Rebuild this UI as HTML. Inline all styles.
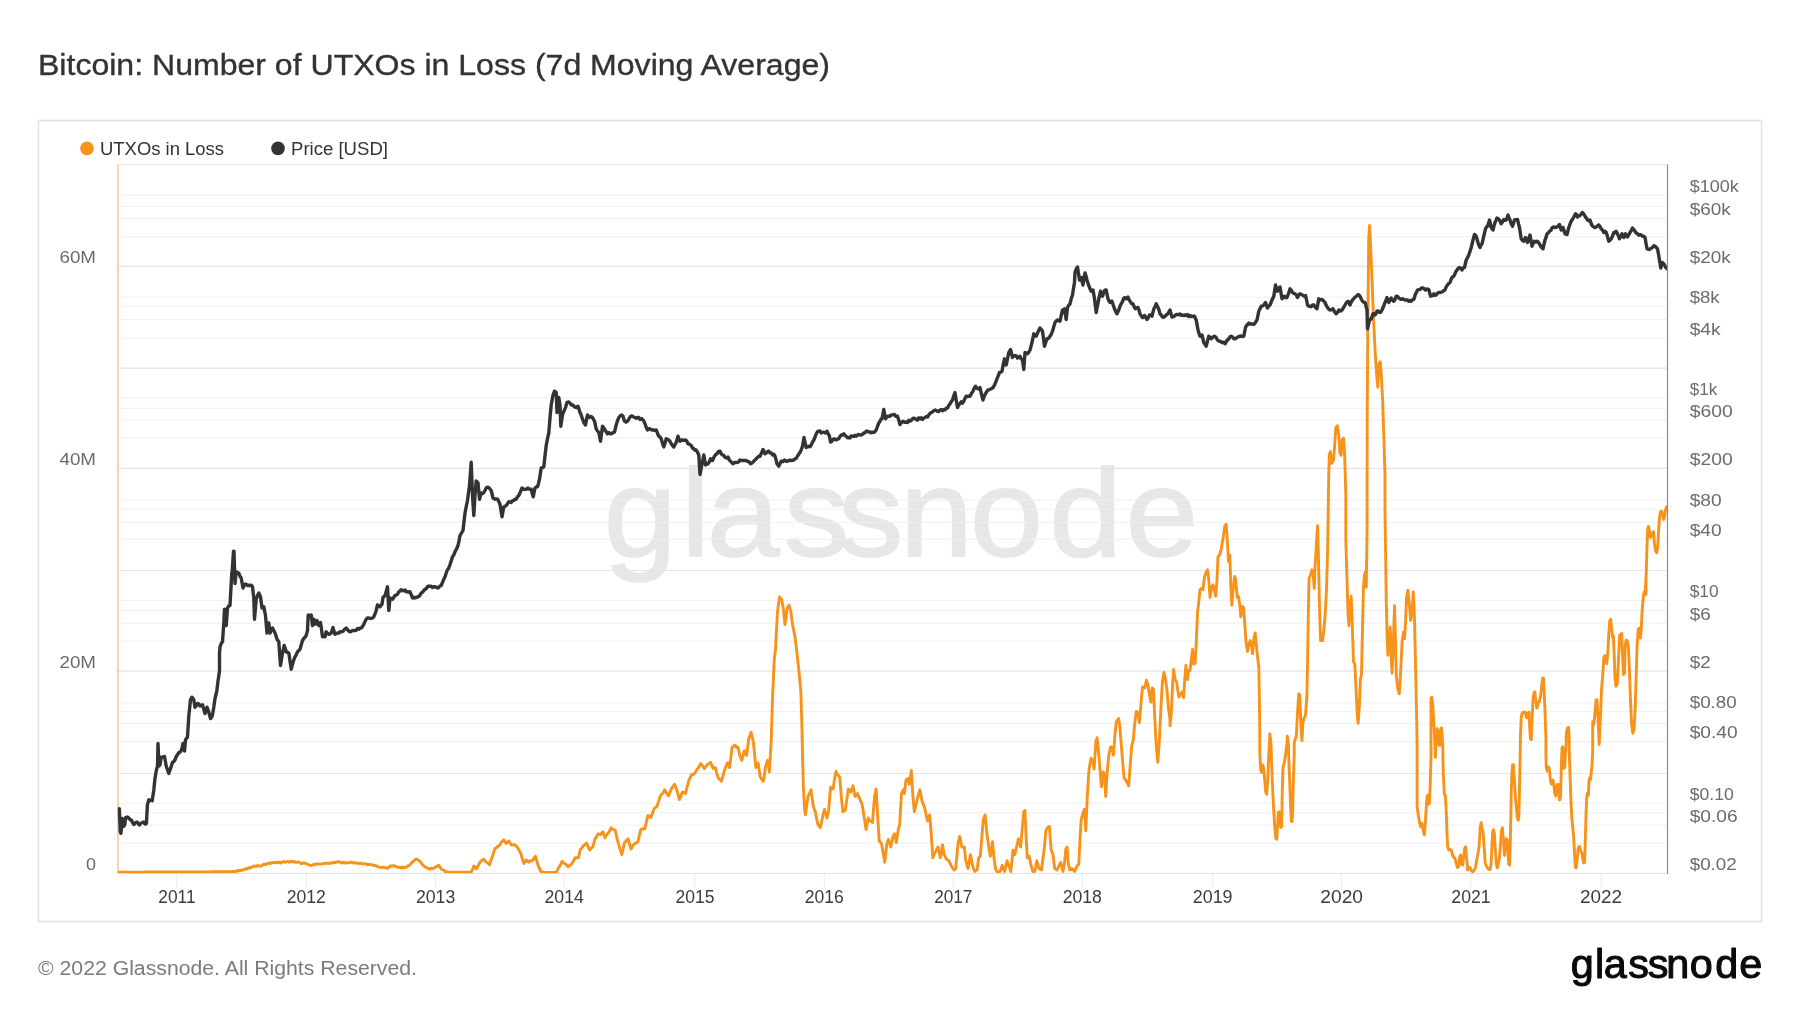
<!DOCTYPE html>
<html lang="en"><head><meta charset="utf-8"><title>Bitcoin: Number of UTXOs in Loss (7d Moving Average)</title>
<style>html,body{margin:0;padding:0;background:#fff;width:1800px;height:1013px;overflow:hidden}</style></head>
<body>
<svg width="1800" height="1013" viewBox="0 0 1800 1013" style="position:absolute;left:0;top:0;will-change:transform;font-family:'Liberation Sans',sans-serif">
<rect x="0" y="0" width="1800" height="1013" fill="#fff"/>
<rect x="38.5" y="120.5" width="1723" height="801" fill="#fff" stroke="#e3e3e3" stroke-width="1.6"/>
<text x="38" y="74.5" font-size="29" fill="#333" stroke="#333" stroke-width="0.35" textLength="792" lengthAdjust="spacingAndGlyphs">Bitcoin: Number of UTXOs in Loss (7d Moving Average)</text>
<g opacity="0.092">
<text transform="translate(0,555.5) scale(1.0481,1)" x="576.05 649.86 674.24 747.88 799.59 858.81 925.59 1001.10 1073.95" y="0" font-size="125" fill="#000" stroke="#000" stroke-width="1.8" stroke-linejoin="round" >glassnode</text>
</g>
<line x1="118" x2="1667.5" y1="195.30" y2="195.30" stroke="#f0f0f0" stroke-width="1"/>
<line x1="118" x2="1667.5" y1="297.20" y2="297.20" stroke="#f0f0f0" stroke-width="1"/>
<line x1="118" x2="1667.5" y1="398.10" y2="398.10" stroke="#f0f0f0" stroke-width="1"/>
<line x1="118" x2="1667.5" y1="500.00" y2="500.00" stroke="#f0f0f0" stroke-width="1"/>
<line x1="118" x2="1667.5" y1="600.40" y2="600.40" stroke="#f0f0f0" stroke-width="1"/>
<line x1="118" x2="1667.5" y1="702.80" y2="702.80" stroke="#f0f0f0" stroke-width="1"/>
<line x1="118" x2="1667.5" y1="803.20" y2="803.20" stroke="#f0f0f0" stroke-width="1"/>
<line x1="118" x2="1667.5" y1="206.30" y2="206.30" stroke="#f0f0f0" stroke-width="1"/>
<line x1="118" x2="1667.5" y1="306.20" y2="306.20" stroke="#f0f0f0" stroke-width="1"/>
<line x1="118" x2="1667.5" y1="408.30" y2="408.30" stroke="#f0f0f0" stroke-width="1"/>
<line x1="118" x2="1667.5" y1="509.25" y2="509.25" stroke="#f0f0f0" stroke-width="1"/>
<line x1="118" x2="1667.5" y1="610.50" y2="610.50" stroke="#f0f0f0" stroke-width="1"/>
<line x1="118" x2="1667.5" y1="711.60" y2="711.60" stroke="#f0f0f0" stroke-width="1"/>
<line x1="118" x2="1667.5" y1="812.70" y2="812.70" stroke="#f0f0f0" stroke-width="1"/>
<line x1="118" x2="1667.5" y1="218.50" y2="218.50" stroke="#f0f0f0" stroke-width="1"/>
<line x1="118" x2="1667.5" y1="319.60" y2="319.60" stroke="#f0f0f0" stroke-width="1"/>
<line x1="118" x2="1667.5" y1="420.30" y2="420.30" stroke="#f0f0f0" stroke-width="1"/>
<line x1="118" x2="1667.5" y1="522.30" y2="522.30" stroke="#f0f0f0" stroke-width="1"/>
<line x1="118" x2="1667.5" y1="623.20" y2="623.20" stroke="#f0f0f0" stroke-width="1"/>
<line x1="118" x2="1667.5" y1="723.60" y2="723.60" stroke="#f0f0f0" stroke-width="1"/>
<line x1="118" x2="1667.5" y1="825.30" y2="825.30" stroke="#f0f0f0" stroke-width="1"/>
<line x1="118" x2="1667.5" y1="236.70" y2="236.70" stroke="#f0f0f0" stroke-width="1"/>
<line x1="118" x2="1667.5" y1="338.20" y2="338.20" stroke="#f0f0f0" stroke-width="1"/>
<line x1="118" x2="1667.5" y1="438.00" y2="438.00" stroke="#f0f0f0" stroke-width="1"/>
<line x1="118" x2="1667.5" y1="539.25" y2="539.25" stroke="#f0f0f0" stroke-width="1"/>
<line x1="118" x2="1667.5" y1="641.20" y2="641.20" stroke="#f0f0f0" stroke-width="1"/>
<line x1="118" x2="1667.5" y1="741.60" y2="741.60" stroke="#f0f0f0" stroke-width="1"/>
<line x1="118" x2="1667.5" y1="843.30" y2="843.30" stroke="#f0f0f0" stroke-width="1"/>
<line x1="118" x2="1667.5" y1="266.40" y2="266.40" stroke="#e4e4e4" stroke-width="1.2"/>
<line x1="118" x2="1667.5" y1="368.20" y2="368.20" stroke="#e4e4e4" stroke-width="1.2"/>
<line x1="118" x2="1667.5" y1="468.40" y2="468.40" stroke="#e4e4e4" stroke-width="1.2"/>
<line x1="118" x2="1667.5" y1="570.50" y2="570.50" stroke="#e4e4e4" stroke-width="1.2"/>
<line x1="118" x2="1667.5" y1="671.10" y2="671.10" stroke="#e4e4e4" stroke-width="1.2"/>
<line x1="118" x2="1667.5" y1="773.50" y2="773.50" stroke="#e4e4e4" stroke-width="1.2"/>
<line x1="118" x2="1667.5" y1="164.5" y2="164.5" stroke="#e6e6e6" stroke-width="1.2"/>
<line x1="118" x2="1667.5" y1="873.5" y2="873.5" stroke="#e0e0e0" stroke-width="1.2"/>
<line x1="176.9" x2="176.9" y1="874.0" y2="887.5" stroke="#ececec" stroke-width="1"/>
<text x="176.9" y="903.2" font-size="17.6" fill="#3a3a44" text-anchor="middle" textLength="37.3" lengthAdjust="spacingAndGlyphs">2011</text>
<line x1="306.3" x2="306.3" y1="874.0" y2="887.5" stroke="#ececec" stroke-width="1"/>
<text x="306.3" y="903.2" font-size="17.6" fill="#3a3a44" text-anchor="middle" textLength="39" lengthAdjust="spacingAndGlyphs">2012</text>
<line x1="435.6" x2="435.6" y1="874.0" y2="887.5" stroke="#ececec" stroke-width="1"/>
<text x="435.6" y="903.2" font-size="17.6" fill="#3a3a44" text-anchor="middle" textLength="39.3" lengthAdjust="spacingAndGlyphs">2013</text>
<line x1="564.2" x2="564.2" y1="874.0" y2="887.5" stroke="#ececec" stroke-width="1"/>
<text x="564.2" y="903.2" font-size="17.6" fill="#3a3a44" text-anchor="middle" textLength="39.3" lengthAdjust="spacingAndGlyphs">2014</text>
<line x1="695.0" x2="695.0" y1="874.0" y2="887.5" stroke="#ececec" stroke-width="1"/>
<text x="695.0" y="903.2" font-size="17.6" fill="#3a3a44" text-anchor="middle" textLength="39" lengthAdjust="spacingAndGlyphs">2015</text>
<line x1="824.3" x2="824.3" y1="874.0" y2="887.5" stroke="#ececec" stroke-width="1"/>
<text x="824.3" y="903.2" font-size="17.6" fill="#3a3a44" text-anchor="middle" textLength="39" lengthAdjust="spacingAndGlyphs">2016</text>
<line x1="953.3" x2="953.3" y1="874.0" y2="887.5" stroke="#ececec" stroke-width="1"/>
<text x="953.3" y="903.2" font-size="17.6" fill="#3a3a44" text-anchor="middle" textLength="38.3" lengthAdjust="spacingAndGlyphs">2017</text>
<line x1="1082.3" x2="1082.3" y1="874.0" y2="887.5" stroke="#ececec" stroke-width="1"/>
<text x="1082.3" y="903.2" font-size="17.6" fill="#3a3a44" text-anchor="middle" textLength="39.3" lengthAdjust="spacingAndGlyphs">2018</text>
<line x1="1212.7" x2="1212.7" y1="874.0" y2="887.5" stroke="#ececec" stroke-width="1"/>
<text x="1212.7" y="903.2" font-size="17.6" fill="#3a3a44" text-anchor="middle" textLength="39.7" lengthAdjust="spacingAndGlyphs">2019</text>
<line x1="1341.7" x2="1341.7" y1="874.0" y2="887.5" stroke="#ececec" stroke-width="1"/>
<text x="1341.7" y="903.2" font-size="17.6" fill="#3a3a44" text-anchor="middle" textLength="42.7" lengthAdjust="spacingAndGlyphs">2020</text>
<line x1="1471.0" x2="1471.0" y1="874.0" y2="887.5" stroke="#ececec" stroke-width="1"/>
<text x="1471.0" y="903.2" font-size="17.6" fill="#3a3a44" text-anchor="middle" textLength="39.3" lengthAdjust="spacingAndGlyphs">2021</text>
<line x1="1601.0" x2="1601.0" y1="874.0" y2="887.5" stroke="#ececec" stroke-width="1"/>
<text x="1601.0" y="903.2" font-size="17.6" fill="#3a3a44" text-anchor="middle" textLength="42" lengthAdjust="spacingAndGlyphs">2022</text>
<line x1="117.9" x2="117.9" y1="164.5" y2="873.0" stroke="#fbc187" stroke-width="1.4"/>
<defs><clipPath id="cp"><rect x="117.5" y="160" width="1550.5" height="713.2"/></clipPath></defs>
<path d="M118.8 872.2 L120.2 872.2 L121.6 872.2 L123.0 872.2 L124.4 872.2 L125.9 872.2 L127.3 872.2 L128.7 872.2 L130.1 872.2 L131.5 872.1 L133.0 872.1 L134.4 872.1 L135.8 872.1 L137.2 872.1 L138.6 872.1 L140.1 872.1 L141.5 872.1 L142.9 872.1 L144.3 872.0 L145.7 872.0 L147.2 872.0 L148.6 872.0 L150.0 872.0 L151.4 872.0 L152.8 872.0 L154.2 872.0 L155.6 872.0 L156.9 872.0 L158.3 872.0 L159.7 872.0 L161.1 872.0 L162.5 872.0 L163.9 872.0 L165.3 872.0 L166.7 872.0 L168.1 872.0 L169.4 872.0 L170.8 872.0 L172.2 872.0 L173.6 872.0 L175.0 872.0 L176.4 872.0 L177.8 872.0 L179.2 872.0 L180.6 872.0 L181.9 872.0 L183.3 872.0 L184.7 872.0 L186.1 872.0 L187.5 872.0 L188.9 872.0 L190.3 872.0 L191.7 872.0 L193.1 872.0 L194.4 872.0 L195.8 872.0 L197.2 872.0 L198.6 872.0 L200.0 872.0 L201.4 872.0 L202.8 872.0 L204.2 871.9 L205.6 871.9 L207.0 871.9 L208.4 871.9 L209.8 871.9 L211.2 871.8 L212.6 871.8 L214.0 871.8 L215.4 871.8 L216.8 871.8 L218.2 871.7 L219.6 871.7 L221.0 871.7 L222.4 871.7 L223.8 871.7 L225.2 871.6 L226.6 871.6 L228.0 871.6 L229.4 871.6 L230.8 871.6 L232.2 871.5 L233.6 871.5 L235.0 871.5 L236.5 871.3 L238.0 870.2 L239.5 870.9 L241.0 870.4 L242.5 869.8 L244.0 869.9 L245.5 868.6 L247.0 869.0 L248.5 867.8 L250.0 868.0 L251.2 867.7 L252.5 866.7 L253.8 866.2 L255.0 866.0 L256.2 866.5 L257.5 865.4 L258.8 866.0 L260.0 866.0 L261.5 866.0 L263.0 864.7 L264.5 864.1 L266.0 864.5 L267.5 863.5 L269.0 863.2 L270.5 863.5 L272.0 862.4 L273.5 862.7 L275.0 862.8 L276.5 862.2 L278.0 862.8 L279.5 861.9 L281.0 863.0 L282.5 862.2 L283.9 861.5 L285.4 862.4 L286.8 861.4 L288.2 861.6 L289.6 862.3 L291.1 861.3 L292.5 861.8 L294.0 861.5 L295.5 862.4 L297.0 862.2 L298.5 861.9 L300.0 862.8 L301.5 863.7 L303.0 862.9 L304.5 863.0 L306.0 863.7 L307.5 864.2 L308.8 864.8 L310.0 865.4 L311.2 865.5 L312.8 864.7 L314.4 864.7 L315.9 863.9 L317.5 864.2 L319.0 863.9 L320.5 864.1 L322.0 863.8 L323.5 863.8 L325.0 863.0 L326.5 863.4 L328.0 863.5 L329.5 863.3 L331.0 863.0 L332.5 863.0 L333.8 862.4 L335.0 862.7 L336.2 862.0 L337.5 862.0 L339.0 861.7 L340.5 862.3 L342.0 863.1 L343.5 862.3 L345.0 863.0 L346.5 863.0 L348.0 862.7 L349.5 862.7 L351.0 862.1 L352.5 862.5 L354.0 863.3 L355.5 862.6 L357.0 863.2 L358.5 863.2 L360.0 863.5 L361.5 863.1 L363.0 864.1 L364.5 863.8 L366.0 863.9 L367.5 864.8 L369.0 864.3 L370.5 864.6 L372.0 864.6 L373.5 865.5 L375.0 865.5 L376.5 865.9 L378.0 866.8 L379.5 867.1 L381.0 867.6 L382.5 867.2 L383.8 867.2 L385.0 867.8 L386.2 867.9 L387.5 868.5 L388.8 867.4 L390.0 866.0 L391.2 866.0 L392.5 866.1 L393.8 865.5 L395.0 866.3 L396.2 866.4 L397.5 867.2 L398.8 867.3 L400.0 867.7 L401.2 867.1 L402.5 868.0 L403.8 867.1 L405.0 867.4 L406.2 867.2 L407.5 866.0 L408.8 865.9 L410.0 864.8 L411.2 863.2 L412.5 861.8 L413.8 861.0 L415.0 859.7 L416.2 859.2 L417.9 859.8 L419.5 861.0 L421.0 862.6 L422.5 864.8 L423.8 865.8 L425.0 866.7 L426.2 867.8 L427.5 867.9 L428.8 868.8 L430.0 869.0 L431.2 868.2 L432.5 868.6 L433.8 868.3 L435.0 867.2 L436.2 866.9 L437.5 865.8 L438.8 865.2 L440.0 867.1 L441.2 869.0 L442.5 869.9 L443.8 870.1 L445.0 871.5 L446.2 871.7 L447.5 871.9 L448.8 872.1 L450.0 872.2 L451.4 872.2 L452.8 872.2 L454.2 872.2 L455.7 872.2 L457.1 872.2 L458.5 872.2 L459.9 872.2 L461.3 872.2 L462.8 872.2 L464.2 872.2 L465.6 872.2 L467.0 872.2 L468.4 872.2 L469.8 872.2 L471.2 872.2 L472.5 869.3 L473.8 866.0 L475.0 867.0 L476.2 869.0 L477.5 866.7 L478.8 864.4 L480.0 862.2 L481.2 861.2 L482.5 859.9 L483.8 859.2 L485.0 860.8 L486.2 862.2 L487.9 863.0 L489.5 864.8 L491.0 860.2 L492.5 856.0 L493.8 852.1 L495.0 848.5 L496.2 848.2 L497.5 846.3 L498.8 846.0 L500.0 844.6 L501.2 842.3 L502.5 841.0 L503.8 839.8 L505.0 841.7 L506.2 843.5 L507.5 842.1 L508.8 841.0 L510.0 842.8 L511.2 844.8 L512.5 845.1 L513.8 844.6 L515.0 844.8 L516.2 846.0 L517.5 847.7 L518.8 849.8 L520.0 851.9 L521.2 854.8 L522.5 859.4 L523.8 863.5 L525.0 861.8 L526.2 859.8 L527.5 861.5 L528.8 862.2 L530.0 860.8 L531.5 860.8 L533.1 860.2 L534.3 857.7 L535.5 856.2 L536.6 860.2 L537.6 863.9 L539.2 867.9 L540.7 871.5 L542.2 871.8 L543.8 872.1 L545.3 872.5 L546.6 872.5 L548.0 872.5 L549.3 872.5 L550.7 872.5 L552.0 872.5 L553.3 872.5 L554.7 872.5 L556.0 872.5 L557.5 870.0 L559.1 866.9 L560.6 864.6 L562.1 861.4 L563.7 863.0 L565.2 863.9 L566.7 865.2 L568.3 866.9 L569.6 865.4 L570.9 864.5 L572.2 863.3 L573.8 860.3 L575.3 857.8 L576.8 857.7 L578.4 857.8 L579.4 853.6 L580.5 849.2 L582.0 847.8 L583.6 845.5 L585.1 844.4 L586.6 843.1 L588.2 846.9 L589.7 850.1 L591.2 848.1 L592.8 847.0 L593.8 843.1 L594.9 839.4 L596.4 837.1 L598.0 833.9 L599.2 833.9 L600.4 834.8 L601.6 833.2 L602.9 831.7 L603.9 834.4 L605.0 837.9 L606.5 835.1 L608.1 833.3 L609.6 830.9 L611.1 827.8 L612.4 829.2 L613.8 829.6 L615.1 830.2 L616.2 834.5 L617.2 839.4 L618.3 843.1 L619.4 847.0 L620.6 850.7 L621.8 854.7 L623.1 849.0 L624.3 843.1 L625.5 841.8 L626.7 840.1 L628.0 838.8 L629.5 844.0 L631.0 849.2 L632.5 846.2 L634.1 844.0 L635.3 843.3 L636.5 843.1 L637.8 841.8 L639.3 835.9 L640.8 829.6 L642.1 828.7 L643.5 829.0 L644.8 828.7 L646.3 822.2 L647.9 815.5 L649.4 816.1 L650.9 817.4 L652.5 813.4 L654.0 808.8 L655.5 807.5 L657.0 806.3 L658.6 801.6 L660.1 796.5 L661.6 794.2 L663.2 792.6 L664.7 789.8 L665.9 792.1 L667.1 794.0 L668.4 795.9 L669.9 792.1 L671.4 788.9 L673.0 786.5 L674.5 784.3 L675.7 786.9 L676.9 790.4 L678.2 795.1 L679.4 799.6 L680.9 796.1 L682.5 791.9 L684.0 792.3 L685.5 793.5 L687.0 787.4 L688.6 781.2 L690.1 777.8 L691.6 774.5 L692.7 774.4 L693.8 774.5 L695.3 772.3 L696.8 769.6 L698.2 768.0 L699.5 765.7 L700.8 763.5 L702.0 765.1 L703.3 767.2 L704.5 768.4 L706.0 766.2 L707.5 764.4 L709.1 763.6 L710.6 762.2 L711.8 765.4 L713.1 768.4 L714.1 768.2 L715.2 767.5 L716.7 773.1 L718.3 778.2 L719.8 779.4 L721.3 781.2 L722.9 776.0 L724.4 770.5 L725.9 766.6 L727.5 762.9 L728.5 765.3 L729.6 767.5 L730.8 757.7 L732.0 747.5 L733.3 746.5 L734.5 745.1 L735.6 745.8 L736.6 747.5 L738.2 747.5 L739.7 755.2 L740.8 757.8 L741.8 760.4 L743.1 755.7 L744.3 750.6 L745.5 753.3 L746.7 755.2 L747.8 746.5 L748.9 737.8 L750.0 735.3 L751.0 732.2 L752.2 737.3 L753.5 743.0 L754.7 755.4 L755.9 767.5 L757.0 765.4 L758.1 762.9 L759.1 769.8 L760.2 776.6 L761.7 779.3 L763.3 781.2 L764.5 773.8 L765.7 765.9 L767.5 760.4 L769.4 772.0 L771.2 741.4 L772.5 698.6 L774.3 658.8 L775.5 649.6 L777.4 612.9 L778.4 604.7 L779.5 596.9 L780.6 598.4 L781.6 599.1 L783.5 609.8 L785.0 624.5 L786.1 616.5 L787.1 608.3 L789.0 605.2 L790.8 611.3 L792.6 625.1 L793.7 630.3 L794.8 635.8 L795.9 644.4 L796.9 652.6 L798.2 664.2 L799.4 675.6 L800.9 692.5 L801.8 723.1 L802.5 753.7 L803.4 787.4 L804.6 808.8 L805.5 814.9 L806.7 805.6 L808.0 796.5 L809.5 793.4 L811.0 789.8 L812.1 797.6 L813.2 805.7 L814.2 808.9 L815.3 811.8 L816.5 817.9 L817.8 824.1 L819.0 825.7 L820.2 827.8 L821.3 822.9 L822.4 818.0 L823.4 813.7 L824.5 809.4 L825.7 813.5 L826.9 818.0 L828.5 811.8 L829.5 799.8 L830.6 787.4 L831.8 787.6 L833.1 788.9 L834.6 778.2 L836.1 771.4 L837.6 775.1 L838.7 775.8 L839.8 777.5 L841.6 799.6 L842.9 811.8 L844.1 811.1 L845.3 810.3 L846.8 799.8 L848.4 788.9 L849.6 790.6 L850.8 791.9 L851.9 789.1 L853.0 785.8 L854.0 791.2 L855.1 796.5 L856.3 795.2 L857.5 793.5 L858.8 796.4 L860.0 799.6 L861.1 801.7 L862.1 804.2 L863.2 811.1 L864.3 818.0 L866.1 829.6 L867.2 823.5 L868.3 818.0 L870.0 821.0 L871.2 821.3 L872.5 822.5 L873.5 809.6 L874.6 796.5 L876.1 788.9 L877.6 814.9 L879.2 840.9 L880.4 842.1 L881.6 844.0 L882.7 850.2 L883.8 856.2 L884.7 862.4 L885.8 853.3 L886.8 844.0 L888.4 839.4 L889.6 843.1 L890.8 847.0 L891.9 841.8 L893.0 836.3 L894.5 833.9 L896.3 842.5 L898.2 830.2 L899.7 824.1 L901.5 793.5 L903.1 789.8 L904.3 793.5 L906.1 779.7 L907.2 779.3 L908.3 778.2 L909.2 784.3 L910.3 777.6 L911.3 770.5 L912.9 796.5 L914.4 811.8 L915.5 807.0 L916.5 802.6 L918.4 795.0 L919.9 789.8 L921.0 795.3 L922.0 801.1 L923.3 804.1 L924.5 807.2 L925.6 812.3 L926.6 817.4 L927.5 821.0 L928.6 817.8 L929.7 814.9 L931.2 833.3 L932.8 857.8 L933.8 855.0 L934.9 853.2 L936.4 850.2 L938.0 847.0 L939.2 852.7 L940.4 857.8 L941.5 851.1 L942.5 844.6 L944.1 854.7 L945.3 857.0 L946.5 859.3 L947.8 859.9 L949.0 860.8 L950.0 863.1 L951.1 865.4 L952.6 868.1 L954.2 870.0 L955.7 868.5 L956.9 855.4 L958.2 842.5 L959.7 836.3 L960.8 841.8 L961.8 847.0 L963.1 847.0 L964.3 847.0 L965.8 860.8 L966.9 864.7 L968.0 868.5 L969.2 861.8 L970.4 854.7 L971.5 859.8 L972.5 865.4 L973.6 868.7 L974.7 871.5 L975.9 870.5 L977.1 870.0 L978.7 857.8 L980.2 856.2 L981.7 839.4 L983.3 819.5 L985.1 814.9 L986.9 833.3 L988.8 847.0 L990.3 856.2 L991.4 849.1 L992.5 841.8 L994.0 857.8 L995.5 868.5 L996.7 870.8 L998.0 872.5 L999.0 872.0 L1000.1 871.5 L1001.2 868.4 L1002.2 865.4 L1003.5 868.8 L1004.7 871.5 L1005.9 865.9 L1007.1 860.8 L1008.2 864.0 L1009.3 866.9 L1010.8 871.5 L1011.9 860.8 L1013.0 850.1 L1014.8 854.7 L1015.9 850.1 L1016.9 845.5 L1018.5 838.8 L1019.5 843.2 L1020.6 847.0 L1022.1 830.2 L1023.7 811.8 L1024.9 810.3 L1026.1 836.3 L1027.3 857.8 L1029.2 856.2 L1030.7 863.9 L1031.8 867.9 L1032.9 871.5 L1034.7 871.5 L1035.8 866.3 L1036.8 860.8 L1037.9 864.5 L1039.0 868.5 L1040.2 868.9 L1041.4 870.0 L1042.7 860.8 L1043.9 851.6 L1045.0 840.8 L1046.0 830.2 L1047.5 827.8 L1049.4 826.5 L1051.2 850.1 L1053.1 854.7 L1054.6 868.5 L1055.7 869.0 L1056.7 870.0 L1058.0 868.1 L1059.2 865.4 L1060.7 862.4 L1061.8 866.7 L1062.9 871.5 L1064.4 863.9 L1065.9 848.6 L1067.1 847.0 L1068.4 863.9 L1069.9 870.0 L1071.0 869.6 L1072.0 868.5 L1073.3 869.9 L1074.5 871.5 L1075.6 869.1 L1076.6 866.9 L1077.7 865.2 L1078.8 863.9 L1080.0 839.4 L1081.2 819.5 L1082.8 813.4 L1084.3 809.4 L1085.8 830.8 L1087.3 796.5 L1088.9 770.5 L1090.0 764.1 L1091.0 758.3 L1092.9 761.3 L1094.1 769.0 L1095.9 741.4 L1097.1 737.8 L1098.7 753.7 L1100.2 772.0 L1101.4 786.7 L1103.3 772.0 L1104.5 775.1 L1105.7 796.5 L1107.2 772.0 L1108.8 755.2 L1110.6 746.9 L1111.8 747.5 L1113.4 755.2 L1114.9 735.3 L1116.4 721.5 L1117.5 720.0 L1118.6 718.5 L1119.8 726.1 L1121.0 741.4 L1122.5 759.8 L1124.1 778.2 L1125.3 779.3 L1126.5 781.2 L1127.6 783.5 L1128.7 785.8 L1130.2 765.9 L1131.7 746.0 L1133.3 739.9 L1134.8 723.1 L1136.3 711.4 L1137.9 712.4 L1139.4 722.5 L1140.9 704.7 L1142.5 686.9 L1143.7 687.1 L1144.9 687.9 L1146.4 680.2 L1148.0 684.8 L1149.5 695.5 L1151.0 702.2 L1152.2 687.9 L1153.5 689.4 L1154.7 716.9 L1156.2 744.5 L1157.8 762.2 L1159.3 741.4 L1160.8 710.8 L1162.3 683.3 L1163.9 672.5 L1165.4 678.7 L1166.9 689.4 L1168.5 707.8 L1170.0 720.0 L1170.0 725.8 L1171.3 713.0 L1172.6 684.8 L1173.6 669.4 L1175.1 679.6 L1176.7 682.2 L1177.7 689.9 L1179.0 697.1 L1180.8 693.8 L1182.3 692.0 L1183.6 697.6 L1184.9 677.1 L1185.9 665.5 L1187.5 679.6 L1188.5 670.7 L1190.0 670.7 L1191.3 659.1 L1192.6 649.4 L1193.6 664.2 L1195.2 663.0 L1196.2 643.7 L1197.5 612.9 L1198.7 602.6 L1200.0 589.8 L1201.3 588.5 L1202.8 589.8 L1204.6 577.0 L1205.9 572.4 L1207.5 569.8 L1208.5 577.0 L1210.0 597.5 L1211.6 587.2 L1212.9 584.7 L1214.1 588.5 L1215.7 596.2 L1217.0 579.6 L1218.0 556.5 L1219.5 555.2 L1221.3 548.8 L1223.4 535.9 L1224.9 525.7 L1226.2 524.4 L1227.5 543.6 L1228.5 561.6 L1229.8 555.2 L1230.8 584.7 L1231.8 605.2 L1233.1 589.8 L1234.7 576.5 L1235.7 579.6 L1237.2 597.5 L1238.5 596.2 L1239.8 605.2 L1240.8 616.8 L1242.4 606.5 L1243.7 607.8 L1244.9 625.8 L1246.2 643.7 L1247.5 651.4 L1249.0 643.7 L1250.3 640.6 L1251.6 646.3 L1252.6 653.5 L1253.9 638.6 L1255.2 632.9 L1256.5 646.3 L1257.8 659.1 L1258.8 666.8 L1259.3 695.0 L1259.8 731.0 L1259.8 748.3 L1260.0 756.7 L1260.7 770.0 L1261.7 772.5 L1262.7 765.0 L1263.7 768.3 L1264.7 780.0 L1265.7 791.7 L1266.7 794.2 L1267.7 781.7 L1268.7 756.7 L1269.5 741.7 L1269.8 734.0 L1271.0 743.3 L1271.7 765.0 L1272.7 790.0 L1273.7 810.0 L1274.7 826.7 L1275.8 838.3 L1276.7 839.2 L1277.7 823.3 L1278.3 812.5 L1279.3 811.7 L1280.0 823.3 L1280.8 827.5 L1281.7 826.7 L1282.3 790.0 L1283.0 766.7 L1284.2 763.3 L1285.3 756.7 L1286.3 748.3 L1287.2 740.8 L1287.3 736.1 L1288.5 745.0 L1288.7 756.7 L1289.7 781.7 L1290.7 810.0 L1291.3 820.8 L1292.0 821.7 L1292.7 810.0 L1293.3 781.7 L1294.2 756.7 L1294.2 743.8 L1295.0 740.0 L1296.3 736.1 L1297.5 713.0 L1298.8 693.8 L1299.8 695.0 L1300.9 725.8 L1301.9 740.7 L1302.9 723.3 L1304.0 718.1 L1305.5 715.6 L1306.8 697.6 L1307.5 666.8 L1308.1 628.3 L1308.6 597.5 L1309.1 578.3 L1310.6 574.4 L1311.9 569.8 L1313.2 574.4 L1314.2 588.5 L1315.2 564.2 L1316.3 546.2 L1317.6 525.7 L1318.3 551.3 L1319.4 602.6 L1320.6 640.6 L1322.7 640.6 L1324.0 628.3 L1325.3 612.9 L1326.5 589.8 L1327.6 551.3 L1328.3 505.1 L1328.3 500.4 L1328.7 476.7 L1329.3 454.4 L1330.4 451.5 L1331.6 463.3 L1333.4 460.4 L1334.6 447.0 L1335.8 427.8 L1337.3 425.7 L1338.7 435.2 L1339.9 453.0 L1341.1 455.3 L1342.3 439.6 L1343.5 438.1 L1344.7 455.9 L1345.8 494.4 L1345.8 507.7 L1345.8 538.5 L1347.1 582.1 L1348.1 615.5 L1348.9 625.8 L1349.9 607.8 L1351.2 596.2 L1352.2 623.2 L1353.5 661.7 L1354.8 664.2 L1356.1 689.9 L1357.3 715.6 L1358.1 723.3 L1359.4 705.3 L1360.4 679.6 L1361.5 674.5 L1362.5 628.3 L1363.5 587.2 L1364.5 574.4 L1365.5 571.9 L1366.3 587.2 L1367.1 525.7 L1367.1 491.5 L1367.2 417.4 L1367.8 328.5 L1368.7 239.6 L1369.6 225.4 L1370.7 248.5 L1372.2 284.1 L1373.7 322.6 L1375.2 352.2 L1376.7 375.9 L1377.8 387.2 L1379.0 364.1 L1380.2 361.7 L1381.4 375.9 L1382.6 399.6 L1383.8 435.2 L1385.0 476.7 L1385.0 512.8 L1385.6 551.3 L1386.3 602.6 L1387.1 636.0 L1387.9 655.3 L1388.9 643.7 L1390.2 627.0 L1391.2 656.5 L1392.0 673.2 L1393.0 654.0 L1393.8 628.3 L1394.5 605.7 L1395.3 633.5 L1396.3 674.5 L1397.6 687.3 L1399.2 693.8 L1400.5 674.5 L1401.5 654.0 L1402.2 641.1 L1403.5 632.2 L1404.6 638.6 L1405.6 620.6 L1406.6 597.5 L1407.9 590.3 L1409.2 602.6 L1410.7 620.6 L1412.0 612.9 L1413.3 591.9 L1414.3 612.9 L1415.3 654.0 L1416.4 705.3 L1417.1 743.8 L1417.1 750.0 L1417.1 773.3 L1417.1 806.7 L1418.3 815.0 L1419.7 823.3 L1420.8 826.7 L1422.0 823.3 L1423.3 830.8 L1424.3 835.0 L1425.3 823.3 L1426.3 806.7 L1427.2 795.8 L1428.0 795.0 L1428.7 804.2 L1429.5 803.3 L1430.3 781.7 L1431.0 756.7 L1431.0 743.5 L1431.0 727.8 L1431.0 698.2 L1431.8 697.2 L1433.0 708.0 L1433.8 721.8 L1434.6 737.6 L1435.4 757.4 L1436.4 737.6 L1437.4 728.8 L1438.2 731.7 L1439.0 744.5 L1439.7 745.5 L1440.5 731.7 L1441.5 727.8 L1442.3 737.6 L1442.9 749.5 L1442.9 750.0 L1442.9 756.7 L1443.3 773.3 L1444.3 794.2 L1445.3 795.0 L1446.2 810.0 L1447.0 833.3 L1447.7 846.7 L1448.7 850.0 L1450.0 849.2 L1451.3 850.0 L1452.5 855.0 L1453.7 857.5 L1455.0 858.3 L1456.3 863.3 L1457.5 867.5 L1458.7 866.7 L1459.7 856.7 L1460.7 855.0 L1461.7 864.2 L1462.7 865.0 L1463.7 856.7 L1464.7 848.3 L1465.7 846.7 L1466.7 860.0 L1467.7 870.0 L1468.7 868.3 L1470.0 867.5 L1471.3 870.8 L1472.7 871.7 L1474.2 870.0 L1475.3 868.3 L1476.7 860.0 L1478.0 853.3 L1479.0 846.7 L1480.0 833.3 L1480.0 828.5 L1481.1 822.6 L1482.1 828.5 L1483.0 831.2 L1484.2 847.8 L1485.2 863.0 L1486.9 867.2 L1488.6 869.2 L1490.0 869.6 L1491.1 864.4 L1491.9 847.8 L1492.7 831.2 L1493.5 829.8 L1494.4 834.0 L1495.2 847.8 L1496.3 864.4 L1497.3 867.9 L1498.2 864.4 L1499.3 858.9 L1500.5 845.0 L1501.4 831.2 L1502.4 827.8 L1503.2 836.8 L1504.0 849.2 L1504.6 855.4 L1505.4 846.4 L1506.3 838.8 L1507.1 839.5 L1507.9 850.6 L1508.8 864.4 L1509.6 865.1 L1510.1 850.6 L1510.7 822.9 L1511.2 795.3 L1511.8 774.5 L1512.6 764.6 L1513.5 764.9 L1514.1 774.5 L1514.8 788.4 L1515.7 800.8 L1516.5 809.1 L1517.3 817.4 L1518.2 820.2 L1518.8 817.4 L1519.4 795.3 L1519.9 767.6 L1520.4 742.8 L1520.4 737.6 L1521.2 717.9 L1522.2 713.0 L1523.8 712.0 L1525.2 712.4 L1526.6 717.9 L1527.8 713.0 L1529.0 712.0 L1529.7 727.8 L1530.5 738.6 L1531.3 739.6 L1532.1 717.9 L1533.1 698.2 L1534.1 692.2 L1534.9 691.8 L1535.7 700.1 L1536.8 708.0 L1538.0 704.1 L1539.4 701.1 L1540.6 696.2 L1541.6 686.3 L1542.6 678.4 L1543.5 678.0 L1544.3 694.2 L1545.1 714.0 L1545.9 737.6 L1545.9 745.5 L1545.9 753.8 L1546.3 767.6 L1547.2 771.1 L1548.0 767.6 L1548.8 767.0 L1549.7 771.8 L1550.5 781.5 L1551.3 784.2 L1552.2 780.8 L1553.0 780.1 L1553.8 784.2 L1554.6 792.5 L1555.5 796.0 L1556.3 789.8 L1557.1 784.9 L1558.0 784.2 L1558.8 795.3 L1559.6 800.1 L1560.4 798.0 L1561.0 781.5 L1561.5 760.7 L1562.1 747.6 L1562.7 746.9 L1563.3 760.7 L1564.0 768.3 L1564.7 767.6 L1565.4 753.8 L1566.2 742.8 L1566.2 737.6 L1566.6 731.7 L1567.6 727.8 L1568.6 727.4 L1569.2 737.6 L1569.2 744.1 L1569.2 751.1 L1569.8 767.6 L1570.5 788.4 L1571.2 806.3 L1572.0 820.2 L1572.9 828.5 L1573.7 836.8 L1574.5 853.3 L1575.4 867.2 L1576.2 867.9 L1577.0 861.6 L1577.9 850.6 L1578.7 847.1 L1579.5 846.4 L1580.3 849.2 L1581.2 852.0 L1582.0 853.3 L1582.8 858.9 L1583.7 863.0 L1584.5 862.3 L1585.0 850.6 L1585.6 829.8 L1586.2 809.1 L1586.7 798.0 L1587.3 793.2 L1587.8 793.9 L1588.4 795.3 L1588.9 781.5 L1589.5 778.0 L1590.0 780.1 L1590.6 778.7 L1591.3 771.8 L1592.0 764.9 L1592.7 751.1 L1592.7 737.6 L1592.7 721.8 L1593.7 724.8 L1594.9 714.0 L1596.0 700.1 L1597.0 699.7 L1598.0 717.9 L1599.2 744.5 L1600.4 717.9 L1601.6 688.3 L1602.8 674.5 L1603.8 657.7 L1604.7 655.7 L1605.9 657.7 L1606.7 663.6 L1607.7 654.7 L1608.7 635.0 L1609.7 621.2 L1610.7 619.2 L1611.6 629.1 L1612.6 637.0 L1613.4 636.0 L1614.2 654.7 L1615.0 678.4 L1616.0 686.3 L1617.4 683.4 L1618.5 658.7 L1619.7 635.0 L1620.9 634.0 L1621.7 633.4 L1622.5 654.7 L1623.5 674.5 L1624.5 673.5 L1625.3 644.9 L1626.2 639.9 L1627.2 640.9 L1628.4 646.8 L1629.4 668.5 L1630.4 698.2 L1631.6 723.8 L1632.8 733.3 L1634.0 729.7 L1635.1 710.0 L1636.1 678.4 L1637.1 644.9 L1638.3 629.1 L1639.3 628.1 L1640.3 638.0 L1641.2 630.1 L1642.2 609.3 L1643.4 595.5 L1644.4 591.6 L1645.2 594.5 L1646.0 575.8 L1646.0 594.5 L1646.1 578.7 L1646.9 549.1 L1647.7 529.4 L1648.5 526.4 L1649.5 531.3 L1650.4 537.3 L1651.6 536.3 L1652.8 532.3 L1653.6 531.7 L1654.4 543.2 L1655.6 551.1 L1656.8 552.7 L1657.7 547.1 L1658.7 529.4 L1659.7 515.5 L1660.7 511.6 L1661.7 511.2 L1662.7 515.5 L1663.7 519.5 L1664.7 515.5 L1665.6 509.6 L1666.6 506.7" fill="none" stroke="#f7931a" stroke-width="2.9" stroke-linejoin="round" stroke-linecap="round" clip-path="url(#cp)"/>
<path d="M119.3 808.6 L119.8 819.5 L120.2 831.4 L120.9 833.3 L121.7 826.4 L122.2 818.5 L122.9 819.5 L123.7 826.4 L124.7 824.9 L125.7 817.5 L127.2 817.0 L128.6 818.0 L130.1 819.5 L131.6 820.5 L133.1 823.5 L134.1 824.4 L135.6 822.5 L137.0 822.0 L138.5 824.0 L139.5 824.9 L141.0 823.0 L142.5 822.5 L143.5 822.1 L144.4 823.3 L145.4 824.2 L146.4 823.5 L146.4 823.5 L147.4 804.8 L148.9 799.8 L150.0 800.7 L151.1 799.9 L152.2 800.8 L153.8 790.0 L154.8 780.0 L156.2 771.0 L157.5 766.0 L158.0 743.5 L159.0 766.0 L160.0 764.8 L161.2 757.2 L162.9 756.9 L164.5 756.5 L166.2 766.0 L167.5 769.7 L168.8 773.5 L170.5 768.5 L171.5 765.6 L172.5 762.2 L173.8 761.6 L175.0 759.8 L176.2 756.6 L177.5 754.8 L178.8 752.6 L180.0 752.2 L181.0 750.9 L182.0 748.5 L183.0 743.5 L184.5 751.0 L185.5 739.8 L186.5 738.4 L187.5 737.2 L188.8 716.0 L190.5 699.8 L192.0 697.2 L193.8 699.8 L195.0 707.2 L196.2 705.8 L197.5 703.5 L198.8 703.8 L200.0 706.0 L201.2 705.3 L202.5 704.8 L203.8 709.4 L205.0 713.5 L206.0 710.0 L207.0 707.2 L208.8 712.2 L210.5 718.5 L211.5 717.4 L212.5 714.8 L213.8 707.0 L215.0 698.5 L216.8 691.0 L218.0 681.0 L219.5 671.0 L219.5 666.0 L219.5 653.0 L220.0 646.8 L221.2 643.5 L222.5 641.8 L223.8 623.0 L224.5 609.2 L226.2 625.5 L227.5 608.0 L228.8 605.8 L230.0 605.5 L231.8 573.0 L232.2 571.0 L233.5 551.2 L234.0 551.2 L235.0 583.5 L236.2 571.8 L237.5 572.5 L238.8 573.0 L240.0 576.2 L241.2 578.0 L243.0 588.0 L244.0 585.9 L245.0 584.2 L246.2 584.3 L247.5 585.5 L248.8 585.3 L250.0 585.5 L251.2 585.1 L252.5 586.8 L253.8 598.0 L254.5 619.2 L256.2 599.2 L257.5 595.7 L258.8 593.0 L260.5 596.8 L262.0 608.0 L263.8 606.8 L265.5 615.5 L267.0 633.0 L268.8 623.0 L270.0 633.0 L271.2 630.4 L272.5 628.0 L273.8 630.5 L275.0 633.0 L276.0 635.8 L277.0 639.2 L278.8 641.8 L280.5 665.5 L281.5 659.0 L282.5 653.0 L284.2 645.5 L285.2 648.2 L286.2 651.8 L287.5 652.3 L288.8 653.0 L290.0 660.9 L291.2 669.2 L292.5 664.2 L293.8 659.8 L295.0 656.8 L296.2 654.8 L297.5 651.8 L298.8 650.6 L300.0 649.2 L301.2 645.1 L302.5 640.5 L304.0 638.1 L305.5 636.8 L306.5 634.3 L307.5 630.5 L308.2 615.0 L309.8 615.9 L311.2 615.0 L312.5 625.5 L313.8 619.2 L315.5 624.2 L317.0 620.5 L318.8 625.5 L320.5 622.5 L321.5 629.3 L322.5 636.8 L323.8 636.3 L325.0 636.8 L326.2 631.8 L327.5 633.4 L328.8 634.2 L330.0 634.1 L331.2 633.0 L333.0 627.5 L334.0 631.4 L335.0 634.2 L336.2 633.5 L337.5 633.0 L338.8 633.1 L340.0 631.8 L341.5 631.9 L343.0 631.2 L344.6 629.2 L346.2 628.0 L347.5 629.7 L348.8 631.0 L350.0 631.7 L351.2 631.5 L352.5 630.5 L353.8 630.5 L355.0 630.5 L356.2 630.3 L357.5 628.6 L358.8 629.2 L360.0 628.1 L361.2 628.0 L362.5 626.6 L363.8 624.2 L365.0 621.6 L366.2 619.2 L367.5 617.9 L368.8 618.0 L370.0 618.4 L371.2 618.5 L372.5 618.0 L373.8 616.8 L375.0 613.9 L376.2 610.5 L377.5 605.0 L378.8 605.6 L380.0 606.8 L381.0 605.4 L382.0 604.2 L383.0 597.5 L384.0 596.5 L385.0 595.5 L386.2 591.5 L387.5 586.8 L388.8 610.5 L390.0 598.0 L391.2 598.7 L392.5 599.2 L393.8 597.2 L395.0 595.5 L396.2 594.9 L397.5 594.2 L398.8 591.8 L400.0 591.0 L401.2 589.7 L402.5 590.5 L403.8 590.7 L405.0 590.0 L406.2 591.9 L407.5 591.8 L408.8 592.0 L410.0 591.8 L411.2 594.7 L412.5 598.0 L413.8 597.2 L415.0 598.0 L416.5 597.4 L418.0 596.8 L419.6 595.8 L421.2 593.0 L422.5 592.3 L423.8 590.5 L425.0 589.3 L426.2 588.7 L427.5 586.8 L428.8 586.0 L430.0 586.4 L431.2 586.2 L432.5 587.5 L433.8 586.8 L435.0 586.8 L436.5 587.3 L438.0 588.0 L439.6 586.3 L441.2 585.5 L442.5 582.4 L443.8 579.2 L445.0 576.8 L446.2 573.0 L447.5 569.7 L448.8 568.0 L450.0 564.6 L451.2 560.9 L452.5 556.8 L453.8 554.9 L455.0 551.8 L456.5 549.0 L458.0 545.5 L459.0 540.8 L460.0 535.5 L461.5 533.0 L463.0 530.5 L464.0 521.8 L465.0 513.0 L466.2 506.7 L467.5 500.5 L468.5 492.6 L469.5 485.5 L471.2 462.2 L472.5 495.5 L473.8 515.5 L475.0 495.5 L476.2 481.0 L478.0 483.0 L479.5 499.2 L481.2 493.0 L482.5 493.6 L483.8 492.5 L485.0 490.4 L486.2 488.0 L487.5 487.1 L488.8 487.5 L490.0 489.0 L491.2 490.5 L493.0 498.0 L494.0 498.6 L495.0 499.2 L496.2 498.9 L497.5 499.2 L498.8 501.5 L500.0 504.2 L501.0 510.5 L502.0 516.8 L503.8 506.8 L505.0 506.4 L506.2 505.5 L507.5 503.8 L508.8 501.8 L510.0 502.0 L511.2 502.5 L512.5 500.6 L513.8 500.5 L515.0 499.3 L516.2 499.2 L517.5 496.8 L518.8 495.5 L520.4 491.9 L522.0 488.0 L523.5 489.4 L525.0 489.2 L526.5 489.3 L528.0 488.0 L529.6 489.3 L531.2 489.2 L532.2 493.4 L533.2 496.8 L535.0 488.0 L536.2 486.9 L537.5 486.8 L538.5 483.4 L539.5 479.2 L541.2 468.0 L542.5 467.7 L543.8 466.8 L545.0 455.8 L546.2 445.5 L547.5 438.7 L548.8 433.0 L550.0 418.0 L551.2 405.0 L553.0 395.0 L554.5 391.2 L556.2 392.5 L557.0 412.5 L558.8 397.5 L560.0 405.0 L560.8 426.2 L562.5 415.0 L563.5 411.8 L564.5 410.0 L565.8 406.6 L567.0 402.5 L568.8 402.0 L570.0 403.0 L571.2 405.0 L572.5 404.8 L573.8 406.2 L575.0 407.1 L576.2 407.5 L578.0 406.2 L579.0 409.2 L580.0 412.5 L581.0 414.4 L582.0 417.5 L583.8 422.5 L585.5 425.0 L586.5 419.6 L587.5 415.0 L588.5 416.3 L589.5 417.5 L590.8 416.5 L592.0 417.0 L593.2 418.7 L594.5 421.2 L596.2 428.8 L597.5 431.0 L598.8 432.5 L600.5 441.2 L601.5 433.7 L602.5 426.2 L603.8 427.8 L605.0 430.0 L606.2 431.8 L607.5 433.8 L608.8 432.6 L610.0 433.5 L611.2 433.8 L612.9 432.7 L614.5 432.0 L616.2 425.0 L617.5 420.8 L618.8 417.5 L620.5 415.5 L621.8 415.0 L623.0 416.2 L624.5 421.2 L626.0 422.2 L627.5 421.2 L628.8 419.1 L630.0 417.0 L631.2 416.0 L632.5 416.2 L633.8 417.1 L635.0 417.5 L636.2 418.3 L637.5 417.5 L638.8 417.5 L640.0 419.5 L641.5 418.6 L643.0 420.0 L644.0 421.3 L645.0 423.8 L646.2 427.2 L647.5 430.0 L648.8 428.7 L650.0 428.8 L651.5 429.8 L653.0 430.0 L654.6 430.4 L656.2 430.0 L657.5 433.2 L658.8 436.2 L660.0 437.0 L661.2 438.8 L662.5 443.5 L663.8 447.0 L665.0 443.3 L666.2 438.8 L667.5 439.4 L668.8 440.0 L670.0 441.4 L671.2 443.8 L672.5 445.6 L673.8 447.0 L675.0 444.6 L676.2 442.5 L678.0 436.2 L679.0 438.9 L680.0 441.2 L681.2 440.2 L682.5 440.0 L684.0 440.3 L685.5 440.0 L686.8 441.1 L688.0 443.8 L689.6 444.2 L691.2 445.5 L692.5 448.0 L693.8 448.8 L695.0 450.2 L696.2 450.0 L697.5 452.2 L698.8 455.0 L700.0 474.5 L701.0 469.5 L702.0 463.8 L703.8 455.0 L705.5 465.0 L706.8 464.0 L708.0 463.8 L709.2 462.0 L710.5 458.8 L711.5 460.1 L712.5 460.5 L713.5 458.2 L714.5 456.2 L715.8 454.5 L717.0 453.8 L718.5 451.5 L720.0 451.2 L721.2 453.8 L722.5 455.0 L723.8 455.4 L725.0 457.5 L726.5 458.0 L728.0 457.0 L729.2 459.9 L730.5 461.2 L731.8 462.6 L733.0 463.8 L734.6 462.4 L736.2 462.5 L737.5 462.4 L738.8 461.8 L740.0 460.0 L741.2 460.6 L742.5 460.4 L743.8 460.5 L745.0 460.5 L746.2 460.7 L747.5 461.2 L749.0 461.9 L750.5 463.8 L752.1 462.9 L753.8 461.2 L755.0 459.9 L756.2 458.8 L757.5 457.3 L758.8 456.3 L760.0 456.2 L761.5 453.1 L763.0 449.5 L764.0 451.3 L765.0 453.8 L766.2 452.9 L767.5 451.7 L768.8 451.2 L770.0 452.9 L771.2 453.0 L772.5 454.9 L773.8 454.2 L775.0 456.2 L776.0 459.6 L777.0 463.8 L778.8 466.2 L780.0 463.5 L781.2 461.2 L782.9 461.7 L784.5 460.0 L786.0 461.2 L787.5 461.2 L788.8 460.6 L790.0 460.1 L791.2 460.5 L792.5 460.3 L793.8 460.1 L795.0 458.8 L796.2 458.3 L797.5 456.2 L798.8 454.1 L800.0 452.5 L801.2 449.9 L802.5 446.2 L804.0 437.5 L805.1 442.7 L806.2 447.5 L807.5 446.8 L808.8 446.2 L810.0 446.7 L811.2 445.0 L812.5 442.1 L813.8 440.0 L815.0 437.2 L816.2 433.8 L817.5 431.7 L818.8 431.2 L820.0 430.9 L821.2 433.0 L822.5 432.5 L823.8 432.1 L825.0 433.0 L826.0 432.6 L827.0 431.2 L828.2 433.9 L829.5 436.2 L830.5 442.0 L832.1 441.0 L833.8 438.8 L835.0 439.1 L836.2 440.0 L837.5 439.0 L838.8 438.8 L840.0 436.5 L841.2 435.0 L842.5 435.2 L843.8 433.8 L845.0 435.2 L846.2 436.2 L847.5 437.8 L848.8 437.5 L850.0 437.9 L851.2 435.9 L852.5 436.2 L853.8 436.4 L855.0 435.3 L856.2 436.2 L857.5 434.8 L858.8 434.5 L860.0 435.0 L861.2 435.1 L862.5 434.3 L863.8 433.0 L865.0 432.8 L866.2 431.2 L867.5 431.1 L868.8 432.0 L870.0 432.0 L871.2 432.8 L872.5 432.1 L873.8 432.5 L875.0 431.4 L876.2 430.0 L878.0 425.0 L879.0 422.7 L880.0 421.2 L881.0 419.2 L882.0 418.8 L883.8 409.5 L885.5 418.8 L886.8 417.1 L888.0 416.2 L889.6 416.5 L891.2 415.0 L892.9 414.9 L894.5 414.5 L896.0 416.3 L897.5 416.2 L898.8 420.3 L900.0 424.5 L901.5 422.5 L903.0 421.2 L904.6 422.3 L906.2 422.0 L907.5 422.5 L908.8 420.4 L910.0 421.2 L911.2 420.3 L912.5 418.8 L913.8 418.1 L915.0 418.4 L916.2 419.5 L917.5 420.1 L918.8 417.9 L920.0 418.8 L921.2 417.9 L922.5 419.4 L923.8 418.0 L925.0 417.5 L926.2 416.5 L927.5 417.0 L928.8 414.9 L930.0 413.5 L931.2 412.5 L932.5 412.0 L933.8 410.5 L935.4 410.0 L937.0 411.2 L938.5 411.5 L940.0 410.0 L941.2 409.6 L942.5 410.8 L943.8 409.5 L945.0 409.9 L946.2 408.1 L947.5 408.0 L948.8 405.5 L950.0 403.8 L951.2 401.8 L952.5 400.0 L953.8 395.7 L955.0 392.5 L956.2 400.1 L957.5 407.5 L958.8 404.8 L960.0 403.8 L961.2 401.9 L962.5 403.1 L963.8 401.2 L965.0 398.4 L966.2 396.2 L967.5 396.5 L968.8 396.1 L970.0 396.2 L971.5 393.4 L973.0 391.2 L974.2 388.1 L975.5 386.2 L976.8 388.3 L978.0 388.8 L979.0 389.1 L980.0 387.5 L981.5 394.3 L983.0 400.0 L984.2 396.3 L985.5 393.8 L986.8 391.4 L988.0 390.0 L989.6 389.6 L991.2 388.8 L992.9 387.8 L994.5 385.0 L995.8 381.9 L997.0 378.8 L998.2 375.9 L999.5 372.5 L1000.8 372.2 L1002.0 371.2 L1003.2 364.7 L1004.5 358.8 L1006.2 365.0 L1007.5 358.8 L1008.8 352.5 L1010.5 349.5 L1011.5 353.3 L1012.5 357.5 L1013.8 356.0 L1015.0 355.5 L1016.2 355.9 L1017.5 358.0 L1018.8 356.7 L1020.0 356.2 L1021.2 359.0 L1022.5 360.0 L1023.8 369.5 L1025.0 352.5 L1026.2 353.0 L1027.5 353.8 L1028.8 352.1 L1030.0 350.0 L1031.0 346.4 L1032.0 342.5 L1033.8 333.8 L1035.0 335.8 L1036.2 336.2 L1038.0 332.0 L1039.0 329.8 L1040.0 328.0 L1041.2 329.3 L1042.5 331.2 L1043.5 338.6 L1044.5 346.2 L1045.8 342.2 L1047.0 338.8 L1048.2 338.6 L1049.5 337.0 L1051.0 334.8 L1052.5 331.2 L1053.8 326.6 L1055.0 322.5 L1056.2 320.9 L1057.5 320.0 L1058.8 320.7 L1060.0 321.2 L1061.2 315.7 L1062.5 310.0 L1063.5 309.6 L1064.5 308.8 L1066.2 319.5 L1067.5 307.5 L1068.8 305.2 L1070.0 303.8 L1071.2 298.8 L1072.5 295.0 L1073.5 288.5 L1074.5 282.5 L1075.0 272.5 L1076.2 269.1 L1077.5 267.0 L1078.5 273.5 L1079.5 280.0 L1081.2 277.5 L1083.0 285.0 L1084.0 278.6 L1085.0 273.0 L1086.0 276.0 L1087.0 280.0 L1088.2 283.9 L1089.5 287.5 L1091.2 291.2 L1093.0 290.0 L1094.5 298.8 L1096.2 312.5 L1097.5 305.4 L1098.8 298.8 L1100.5 291.2 L1101.5 294.2 L1102.5 296.2 L1103.5 293.4 L1104.5 290.5 L1106.2 290.0 L1108.0 298.8 L1109.0 301.2 L1110.0 302.5 L1111.0 301.2 L1112.0 301.2 L1113.2 305.0 L1114.5 308.8 L1115.8 311.7 L1117.0 313.8 L1118.8 310.0 L1120.0 306.3 L1121.2 303.8 L1122.5 301.6 L1123.8 298.0 L1125.0 297.6 L1126.2 298.8 L1128.0 297.0 L1129.0 299.6 L1130.0 301.2 L1131.5 303.5 L1133.0 303.8 L1134.2 306.8 L1135.5 308.8 L1136.8 307.7 L1138.0 307.5 L1139.0 310.1 L1140.0 313.8 L1141.2 315.7 L1142.5 317.5 L1143.5 317.3 L1144.5 315.5 L1145.8 317.1 L1147.0 319.5 L1148.2 317.9 L1149.5 315.0 L1150.8 314.9 L1152.0 316.2 L1153.8 308.8 L1155.0 306.9 L1156.2 303.8 L1158.0 307.5 L1159.0 310.0 L1160.0 313.8 L1161.2 315.0 L1162.5 317.0 L1163.8 317.2 L1165.0 316.3 L1166.2 315.0 L1167.5 314.1 L1168.8 312.3 L1170.0 310.0 L1171.0 313.8 L1172.0 317.0 L1173.5 316.7 L1175.0 315.5 L1176.2 314.4 L1177.5 314.7 L1178.8 314.5 L1180.0 313.9 L1181.2 315.3 L1182.5 315.0 L1183.8 315.6 L1185.0 314.8 L1186.2 315.5 L1187.5 314.5 L1188.8 316.6 L1190.0 315.5 L1191.5 316.5 L1193.0 316.1 L1194.5 316.2 L1196.2 320.0 L1198.0 330.0 L1199.0 333.2 L1200.0 336.2 L1201.0 336.4 L1202.0 335.0 L1203.8 342.5 L1205.0 344.3 L1206.2 346.2 L1207.5 341.1 L1208.8 336.2 L1210.0 337.2 L1211.2 338.8 L1212.9 337.0 L1214.5 336.2 L1216.0 337.3 L1217.5 340.0 L1218.8 341.0 L1220.0 341.2 L1221.2 342.0 L1222.5 342.7 L1223.8 342.2 L1225.0 343.8 L1226.2 341.8 L1227.5 339.8 L1228.8 338.8 L1230.0 336.8 L1231.2 336.2 L1232.5 337.0 L1233.8 338.8 L1235.4 338.8 L1237.0 337.5 L1238.5 336.7 L1240.0 336.2 L1241.2 336.0 L1242.5 336.5 L1243.8 336.2 L1245.5 327.5 L1246.5 325.5 L1247.5 324.5 L1248.8 323.1 L1250.0 324.1 L1251.2 323.8 L1252.5 324.1 L1253.8 324.5 L1255.4 322.5 L1257.0 320.0 L1258.8 311.2 L1260.0 308.7 L1261.2 306.2 L1262.5 306.0 L1263.8 305.0 L1265.5 302.5 L1266.5 305.6 L1267.5 308.0 L1268.8 306.0 L1270.0 305.0 L1271.0 302.5 L1272.0 300.0 L1273.8 296.2 L1275.5 285.0 L1276.5 288.1 L1277.5 291.2 L1278.8 288.7 L1280.0 287.0 L1281.0 292.8 L1282.0 298.8 L1283.2 297.6 L1284.5 296.2 L1285.8 297.7 L1287.0 297.5 L1288.5 293.7 L1290.0 288.8 L1291.2 290.2 L1292.5 292.5 L1293.8 293.4 L1295.0 293.8 L1296.2 294.8 L1297.5 297.5 L1298.8 294.9 L1300.0 293.8 L1301.2 294.4 L1302.5 295.0 L1304.0 296.1 L1305.5 295.5 L1306.5 299.9 L1307.5 305.0 L1308.8 306.2 L1310.0 306.2 L1311.2 306.7 L1312.5 305.0 L1313.8 305.0 L1315.4 307.2 L1317.0 308.8 L1318.8 298.8 L1320.4 299.9 L1322.0 299.5 L1323.5 300.8 L1325.0 302.5 L1326.2 305.3 L1327.5 307.5 L1328.8 309.2 L1330.0 310.0 L1331.5 309.6 L1333.0 308.8 L1334.6 311.9 L1336.2 313.8 L1337.5 312.6 L1338.8 310.0 L1340.4 311.1 L1342.0 310.0 L1343.5 307.6 L1345.0 305.0 L1346.5 302.5 L1348.0 301.2 L1349.0 302.7 L1350.0 305.0 L1351.2 302.0 L1352.5 300.0 L1353.8 298.6 L1355.0 297.0 L1356.2 296.5 L1357.5 295.0 L1358.8 294.7 L1360.0 296.2 L1361.2 299.0 L1362.5 301.2 L1363.8 302.3 L1365.0 302.5 L1366.0 306.1 L1367.0 310.0 L1367.5 328.8 L1368.5 324.4 L1369.5 320.0 L1371.2 318.8 L1373.0 313.8 L1374.0 313.7 L1375.0 315.0 L1376.0 313.5 L1377.0 311.2 L1378.2 310.9 L1379.5 312.5 L1380.8 312.2 L1382.0 310.0 L1383.2 307.3 L1384.5 303.8 L1385.8 300.8 L1387.0 297.5 L1388.8 302.5 L1390.0 299.9 L1391.2 298.0 L1392.5 300.4 L1393.8 301.2 L1395.0 299.5 L1396.2 296.2 L1397.5 296.4 L1398.8 298.0 L1400.0 298.9 L1401.2 299.3 L1402.5 298.8 L1403.8 299.5 L1405.0 300.0 L1406.2 300.0 L1407.5 300.0 L1408.8 301.3 L1410.0 300.5 L1411.2 301.2 L1412.5 299.6 L1413.8 299.5 L1415.5 293.8 L1416.5 292.4 L1417.5 290.0 L1418.8 289.6 L1420.0 289.5 L1421.5 288.0 L1423.0 288.0 L1424.2 288.7 L1425.5 290.0 L1427.1 288.9 L1428.8 289.5 L1430.5 296.2 L1432.1 295.8 L1433.8 293.8 L1435.0 295.4 L1436.2 295.0 L1437.5 293.0 L1438.8 292.5 L1440.4 292.5 L1442.0 292.0 L1443.5 290.8 L1445.0 290.0 L1446.2 286.9 L1447.5 285.0 L1448.8 283.4 L1450.0 282.5 L1451.0 279.6 L1452.0 277.5 L1453.2 276.7 L1454.5 275.0 L1455.8 271.7 L1457.0 270.0 L1458.2 268.2 L1459.5 267.5 L1460.8 268.6 L1462.0 270.0 L1463.2 267.8 L1464.5 267.5 L1466.2 260.0 L1467.5 257.7 L1468.8 255.0 L1470.0 251.4 L1471.2 247.5 L1473.0 240.0 L1474.5 234.5 L1476.2 236.2 L1478.0 242.5 L1479.0 245.5 L1480.0 247.5 L1481.0 245.1 L1482.0 243.8 L1483.8 236.2 L1485.5 228.8 L1486.5 227.1 L1487.5 226.2 L1488.5 223.2 L1489.5 220.0 L1491.2 227.5 L1493.0 230.0 L1494.0 226.0 L1495.0 222.5 L1496.0 220.4 L1497.0 218.0 L1498.2 218.5 L1499.5 220.0 L1501.2 223.8 L1502.5 221.9 L1503.8 219.5 L1505.0 220.4 L1506.2 220.0 L1508.0 215.0 L1509.0 218.0 L1510.0 220.0 L1511.2 223.8 L1512.5 226.2 L1513.5 223.2 L1514.5 220.0 L1516.0 219.7 L1517.5 219.5 L1518.5 223.9 L1519.5 227.5 L1521.2 238.8 L1522.5 240.5 L1523.8 241.2 L1525.5 237.5 L1526.5 240.1 L1527.5 242.5 L1528.8 238.6 L1530.0 235.0 L1531.0 240.4 L1532.0 246.2 L1533.2 243.1 L1534.5 241.2 L1535.8 242.0 L1537.0 241.2 L1538.5 242.4 L1540.0 245.0 L1541.5 247.3 L1543.0 248.8 L1544.0 244.4 L1545.0 240.0 L1546.0 237.5 L1547.0 233.8 L1548.2 233.0 L1549.5 231.2 L1550.8 230.5 L1552.0 228.0 L1553.2 226.9 L1554.5 227.5 L1555.8 227.3 L1557.0 227.0 L1558.2 225.9 L1559.5 224.5 L1561.2 230.0 L1563.0 227.5 L1564.0 230.4 L1565.0 233.8 L1566.0 234.1 L1567.0 234.5 L1568.8 227.5 L1570.0 224.2 L1571.2 221.2 L1572.5 219.2 L1573.8 217.0 L1575.5 213.8 L1576.5 214.5 L1577.5 217.0 L1578.8 216.1 L1580.0 215.5 L1581.2 213.9 L1582.5 212.5 L1583.8 214.0 L1585.0 216.2 L1586.2 217.9 L1587.5 220.0 L1588.8 220.7 L1590.0 220.0 L1591.0 223.0 L1592.0 225.5 L1593.2 226.5 L1594.5 227.5 L1595.8 227.2 L1597.0 226.2 L1598.8 225.0 L1600.0 226.7 L1601.2 228.8 L1602.5 230.1 L1603.8 232.5 L1605.0 231.3 L1606.2 232.5 L1607.5 236.6 L1608.8 241.2 L1610.0 240.2 L1611.2 238.8 L1612.5 236.2 L1613.8 232.5 L1615.0 232.6 L1616.2 231.2 L1618.0 235.0 L1619.5 238.8 L1620.8 236.3 L1622.0 233.8 L1623.8 237.5 L1625.5 233.8 L1626.5 236.2 L1627.5 237.0 L1628.8 234.7 L1630.0 232.5 L1631.2 230.8 L1632.5 228.0 L1633.8 229.5 L1635.0 231.2 L1636.2 233.0 L1637.5 233.8 L1638.8 235.2 L1640.0 234.5 L1641.2 235.0 L1642.5 236.2 L1643.8 236.2 L1645.0 237.5 L1646.0 243.2 L1647.0 248.8 L1648.2 249.2 L1649.5 249.5 L1651.0 248.2 L1652.5 247.5 L1653.8 245.8 L1655.0 246.2 L1656.2 247.3 L1657.5 248.8 L1658.5 254.3 L1659.5 260.0 L1660.8 268.0 L1662.5 262.5 L1663.5 263.6 L1664.5 265.0 L1665.8 267.5 L1667.0 268.8" fill="none" stroke="#333" stroke-width="3.4" stroke-linejoin="round" stroke-linecap="round" clip-path="url(#cp)"/>
<line x1="1667.5" x2="1667.5" y1="164.5" y2="874.0" stroke="#8e8e8e" stroke-width="1.25"/>
<text x="96" y="262.8" font-size="17.2" fill="#6b6b6b" text-anchor="end" textLength="36.5" lengthAdjust="spacingAndGlyphs">60M</text>
<text x="96" y="465.1" font-size="17.2" fill="#6b6b6b" text-anchor="end" textLength="36.5" lengthAdjust="spacingAndGlyphs">40M</text>
<text x="96" y="667.5" font-size="17.2" fill="#6b6b6b" text-anchor="end" textLength="36.5" lengthAdjust="spacingAndGlyphs">20M</text>
<text x="96" y="870.3" font-size="17.2" fill="#6b6b6b" text-anchor="end" textLength="10" lengthAdjust="spacingAndGlyphs">0</text>
<text x="1689.7" y="191.6" font-size="17.3" fill="#6b6b6b" textLength="49" lengthAdjust="spacingAndGlyphs">$100k</text>
<text x="1689.7" y="215.1" font-size="17.3" fill="#6b6b6b" textLength="41" lengthAdjust="spacingAndGlyphs">$60k</text>
<text x="1689.7" y="263.1" font-size="17.3" fill="#6b6b6b" textLength="41" lengthAdjust="spacingAndGlyphs">$20k</text>
<text x="1689.7" y="303.1" font-size="17.3" fill="#6b6b6b" textLength="30" lengthAdjust="spacingAndGlyphs">$8k</text>
<text x="1689.7" y="335.1" font-size="17.3" fill="#6b6b6b" textLength="31" lengthAdjust="spacingAndGlyphs">$4k</text>
<text x="1689.7" y="395.1" font-size="17.3" fill="#6b6b6b" textLength="27.5" lengthAdjust="spacingAndGlyphs">$1k</text>
<text x="1689.7" y="416.6" font-size="17.3" fill="#6b6b6b" textLength="43" lengthAdjust="spacingAndGlyphs">$600</text>
<text x="1689.7" y="465.1" font-size="17.3" fill="#6b6b6b" textLength="43" lengthAdjust="spacingAndGlyphs">$200</text>
<text x="1689.7" y="506.1" font-size="17.3" fill="#6b6b6b" textLength="32" lengthAdjust="spacingAndGlyphs">$80</text>
<text x="1689.7" y="536.1" font-size="17.3" fill="#6b6b6b" textLength="32" lengthAdjust="spacingAndGlyphs">$40</text>
<text x="1689.7" y="597.1" font-size="17.3" fill="#6b6b6b" textLength="29" lengthAdjust="spacingAndGlyphs">$10</text>
<text x="1689.7" y="620.1" font-size="17.3" fill="#6b6b6b" textLength="21" lengthAdjust="spacingAndGlyphs">$6</text>
<text x="1689.7" y="668.1" font-size="17.3" fill="#6b6b6b" textLength="21" lengthAdjust="spacingAndGlyphs">$2</text>
<text x="1689.7" y="708.1" font-size="17.3" fill="#6b6b6b" textLength="47" lengthAdjust="spacingAndGlyphs">$0.80</text>
<text x="1689.7" y="738.1" font-size="17.3" fill="#6b6b6b" textLength="48" lengthAdjust="spacingAndGlyphs">$0.40</text>
<text x="1689.7" y="800.1" font-size="17.3" fill="#6b6b6b" textLength="44" lengthAdjust="spacingAndGlyphs">$0.10</text>
<text x="1689.7" y="822.1" font-size="17.3" fill="#6b6b6b" textLength="48" lengthAdjust="spacingAndGlyphs">$0.06</text>
<text x="1689.7" y="870.1" font-size="17.3" fill="#6b6b6b" textLength="47" lengthAdjust="spacingAndGlyphs">$0.02</text>
<circle cx="87" cy="148.4" r="6.8" fill="#f7931a"/>
<text x="100" y="155" font-size="18" fill="#333" textLength="124" lengthAdjust="spacingAndGlyphs">UTXOs in Loss</text>
<circle cx="278" cy="148.4" r="6.8" fill="#333"/>
<text x="291" y="155" font-size="18" fill="#333" textLength="97" lengthAdjust="spacingAndGlyphs">Price [USD]</text>
<text x="38" y="975" font-size="19.5" fill="#7b7b7b" textLength="379" lengthAdjust="spacingAndGlyphs">© 2022 Glassnode. All Rights Reserved.</text>
<text transform="translate(0,978) scale(1.0350,1)" x="1517.56 1541.01 1549.64 1573.29 1591.94 1609.82 1632.72 1657.18 1680.35" y="0" font-size="40" fill="#0a0a0a" stroke="#0a0a0a" stroke-width="1.0" stroke-linejoin="round" >glassnode</text>
</svg>
</body></html>
